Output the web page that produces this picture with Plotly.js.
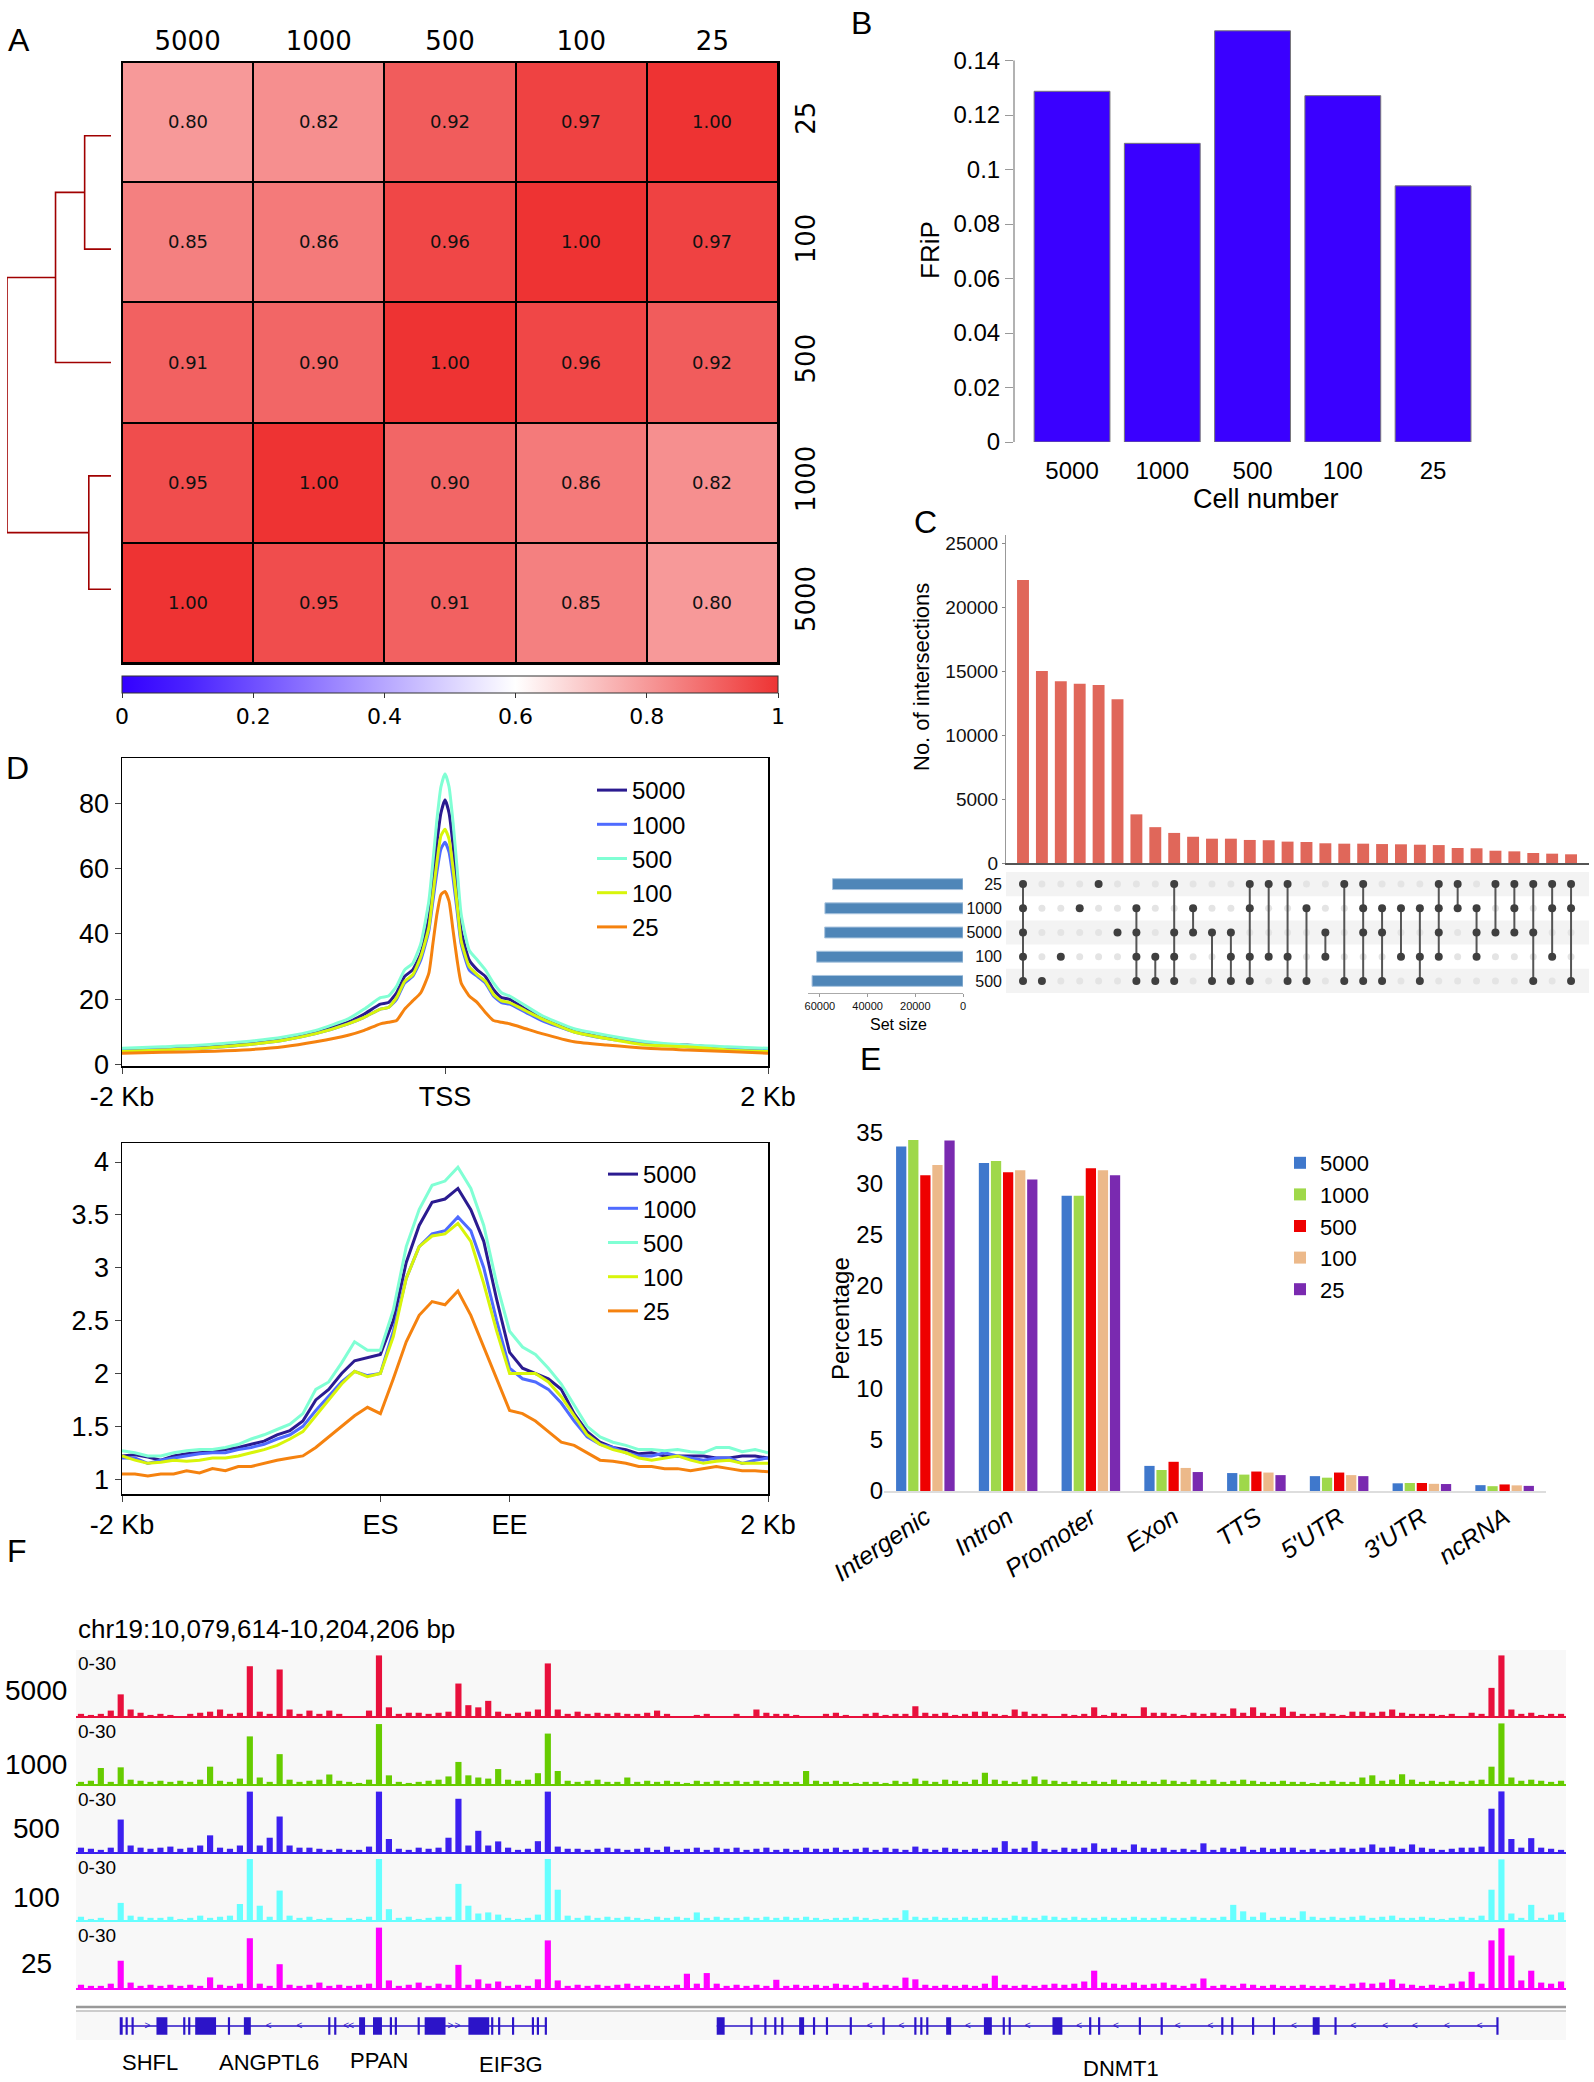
<!DOCTYPE html>
<html>
<head>
<meta charset="utf-8">
<script src="https://cdn.plot.ly/plotly-3.0.1.min.js"></script>
<style>
  body { margin: 0; background: #fff; }
  #fig { width: 1594px; height: 2082px; }
</style>
</head>
<body>
<div id="fig"></div>
<script>
const W = 1594, H = 2082;
const ARIAL = 'Liberation Sans, Arial, sans-serif';
const DJV = 'DejaVu Sans, sans-serif';

// ---------- A: correlation heatmap ----------
const cellNames = ['5000', '1000', '500', '100', '25'];
const heatRows = ['25', '100', '500', '1000', '5000'];
const corr = [
  [0.80, 0.82, 0.92, 0.97, 1.00],
  [0.85, 0.86, 0.96, 1.00, 0.97],
  [0.91, 0.90, 1.00, 0.96, 0.92],
  [0.95, 1.00, 0.90, 0.86, 0.82],
  [1.00, 0.95, 0.91, 0.85, 0.80]
];
// dendrogram: leaves 0..4 = 5000,1000,500,100,25 (bottom to top); [a, b, height]
const linkage = [[4, 3, 0.19], [5, 2, 0.40], [1, 0, 0.16], [6, 7, 0.75]];

// ---------- B: FRiP ----------
const fripVals = [0.1287, 0.1096, 0.1509, 0.1271, 0.0940];

// ---------- C: upset ----------
const interCounts = [22100, 15000, 14200, 14000, 13900, 12800, 3800, 2800, 2350, 2050,
  1900, 1900, 1800, 1780, 1670, 1640, 1540, 1510, 1510, 1480,
  1460, 1430, 1400, 1170, 1150, 960, 910, 780, 730, 680];
const interSets = [
  ['25', '1000', '5000', '100', '500'], ['500'], ['100'], ['1000'], ['25'], ['5000'],
  ['1000', '5000', '100', '500'], ['100', '500'], ['25', '5000', '100', '500'], ['1000', '5000'],
  ['5000', '500'], ['5000', '100', '500'], ['25', '1000', '100', '500'], ['25', '100'], ['25', '100', '500'],
  ['1000', '500'], ['5000', '100'], ['25', '500'], ['25', '1000', '5000', '500'], ['1000', '5000', '500'],
  ['1000', '100'], ['1000', '100', '500'], ['25', '1000', '5000', '100'], ['25', '1000'], ['1000', '5000', '100'],
  ['25', '5000'], ['25', '1000', '5000'], ['25', '5000', '500'], ['25', '1000', '100'], ['25', '1000', '500']
];
const setNames = ['25', '1000', '5000', '100', '500'];   // top to bottom
const setSizes = [54700, 57900, 58000, 61400, 63300];

// ---------- D: profiles ----------
const tssX = [-2000, -1750, -1500, -1250, -1000, -800, -600, -500, -400, -350, -300, -250, -200, -150, -100, -75, -50, -25, 0,
  25, 50, 75, 100, 150, 200, 250, 300, 350, 400, 500, 600, 800, 1000, 1250, 1500, 1750, 2000];
const tss5000 = [4.5, 5, 5.5, 6.5, 8, 10, 13, 15.5, 18.5, 19, 22, 27, 29, 34, 45, 56, 68, 77, 81, 77, 67, 54, 41, 32, 29, 27, 23, 20.5, 20, 17, 14.5, 10.5, 8.5, 6.5, 6, 5, 4.5];
const tss1000 = [4.5, 4.8, 5, 6, 7.5, 9.5, 12.5, 14.5, 17, 17.5, 20, 25, 27, 32, 41, 50, 59, 66, 68, 65, 57, 47, 37, 29, 27, 25, 21, 19, 18.5, 16, 13.5, 10, 8, 6.5, 5.5, 5, 4.5];
const tss500 = [5, 5.5, 6, 7, 8.5, 10.5, 14, 17, 20.5, 21, 24, 29, 31, 37, 50, 62, 75, 85, 89, 85, 74, 60, 46, 35, 32, 29, 25, 22, 21, 18, 15, 11, 9, 7, 6, 5.5, 5];
const tss100 = [4, 4.5, 5, 6, 7.5, 9.5, 12.5, 14.5, 17, 17.5, 20.5, 25.5, 27.5, 33, 42, 52, 62, 70, 72, 69, 60, 49, 38, 30, 27.5, 25.5, 21.5, 19.5, 19, 16.5, 14, 10, 8, 6, 5.5, 4.5, 4];
const tss25 = [3.5, 3.8, 4, 4.5, 5.5, 7, 9, 10.5, 12.5, 13, 13.5, 17, 19.5, 22, 28, 37, 46, 52, 53, 50, 41, 32, 25, 21, 19, 16, 13.5, 13, 12.5, 11, 9.5, 7, 6, 5, 4.5, 4, 3.5];

const gbX = [0, 2, 4, 6, 8, 10, 12, 14, 16, 18, 20, 22, 24, 26, 28, 30, 32, 34, 36, 38, 40, 42, 44, 46, 48, 50,
  52, 54, 56, 58, 60, 62, 64, 66, 68, 70, 72, 74, 76, 78, 80, 82, 84, 86, 88, 90, 92, 94, 96, 98, 100];
const gb5000 = [1.22, 1.23, 1.21, 1.18, 1.22, 1.24, 1.25, 1.26, 1.28, 1.30, 1.33, 1.36, 1.42, 1.46, 1.55, 1.75, 1.85, 2.00, 2.12, 2.15, 2.18,
  2.50, 3.05, 3.40, 3.62, 3.65, 3.75, 3.55, 3.25, 2.70, 2.20, 2.05, 2.00, 1.95, 1.85, 1.62, 1.45, 1.35, 1.30, 1.28, 1.24,
  1.25, 1.22, 1.22, 1.22, 1.22, 1.20, 1.20, 1.22, 1.22, 1.20];
const gb1000 = [1.20, 1.20, 1.15, 1.18, 1.20, 1.22, 1.24, 1.25, 1.25, 1.28, 1.30, 1.33, 1.38, 1.42, 1.50, 1.65, 1.78, 1.92, 2.02, 1.98, 2.00,
  2.40, 2.90, 3.20, 3.32, 3.35, 3.48, 3.35, 3.00, 2.50, 2.05, 1.95, 1.92, 1.85, 1.72, 1.55, 1.40, 1.33, 1.30, 1.25, 1.22,
  1.22, 1.25, 1.22, 1.20, 1.18, 1.20, 1.20, 1.15, 1.18, 1.20];
const gb500 = [1.27, 1.25, 1.22, 1.22, 1.25, 1.27, 1.28, 1.28, 1.30, 1.33, 1.38, 1.42, 1.47, 1.52, 1.62, 1.85, 1.92, 2.10, 2.30, 2.22, 2.22,
  2.60, 3.20, 3.55, 3.78, 3.82, 3.95, 3.75, 3.40, 2.85, 2.40, 2.25, 2.18, 2.05, 1.90, 1.70, 1.50, 1.40, 1.35, 1.32, 1.28,
  1.28, 1.27, 1.28, 1.26, 1.25, 1.30, 1.30, 1.26, 1.28, 1.25];
const gb100 = [1.22, 1.18, 1.15, 1.16, 1.18, 1.17, 1.18, 1.20, 1.20, 1.22, 1.25, 1.28, 1.32, 1.38, 1.45, 1.60, 1.75, 1.90, 2.02, 1.97, 2.00,
  2.35, 2.90, 3.20, 3.30, 3.32, 3.42, 3.25, 2.85, 2.40, 2.00, 2.00, 2.00, 1.92, 1.78, 1.60, 1.42, 1.33, 1.28, 1.25, 1.20,
  1.18, 1.20, 1.22, 1.18, 1.15, 1.17, 1.18, 1.15, 1.15, 1.15];
const gb25 = [1.05, 1.05, 1.03, 1.05, 1.05, 1.08, 1.06, 1.10, 1.08, 1.12, 1.12, 1.15, 1.18, 1.20, 1.22, 1.30, 1.40, 1.50, 1.60, 1.68, 1.62,
  1.95, 2.30, 2.55, 2.68, 2.65, 2.78, 2.55, 2.25, 1.95, 1.65, 1.62, 1.55, 1.45, 1.35, 1.32, 1.25, 1.18, 1.17, 1.15, 1.12,
  1.12, 1.10, 1.10, 1.08, 1.10, 1.12, 1.10, 1.08, 1.08, 1.07];

// ---------- E: annotation ----------
const annoCats = ['Intergenic', 'Intron', 'Promoter', 'Exon', 'TTS', "5'UTR", "3'UTR", 'ncRNA'];
const pct5000 = [33.6, 32.0, 28.8, 2.45, 1.75, 1.45, 0.75, 0.57];
const pct1000 = [34.25, 32.2, 28.8, 2.05, 1.6, 1.3, 0.78, 0.47];
const pct500 = [30.8, 31.1, 31.5, 2.85, 1.9, 1.8, 0.78, 0.64];
const pct100 = [31.8, 31.3, 31.3, 2.25, 1.8, 1.55, 0.7, 0.55];
const pct25 = [34.2, 30.4, 30.8, 1.85, 1.55, 1.45, 0.68, 0.5];

// ---------- F: genome browser (150 bins, 0-30 scale) ----------
const trk5000 = [1, 0.5, 1, 2.5, 10, 3, 1.5, 0.5, 1, 0.5, 0, 1, 1.5, 2, 3, 1, 1.5, 23, 2, 1,
  21.5, 3, 1, 2.5, 1, 2.5, 1, 0, 0, 2.5, 28, 4, 1, 1.5, 1.5, 1, 1.5, 2, 15, 5,
  4, 7, 2, 1, 1.5, 2, 3, 24.3, 3, 1, 2, 1, 1.5, 1, 1.5, 1, 1, 1.5, 2.5, 1,
  0, 0, 0.5, 1, 0, 0, 1, 0, 3, 1.5, 1, 1, 0.5, 0, 0, 1, 1.5, 0.5, 0, 1,
  1.5, 0.5, 1, 1, 4.5, 1.5, 1, 1.5, 0.5, 1, 2, 2, 1, 0.5, 3, 2, 1, 1, 0, 1,
  0.5, 1, 4, 0.5, 1.5, 1, 0, 4, 1.5, 1.5, 1, 0.5, 1.5, 1, 1.5, 1, 3.5, 1.5, 4, 1.5,
  1, 4, 2, 1, 1, 1.5, 1, 0.5, 2, 2, 1.5, 2, 3, 1.5, 1, 1, 1, 0.5, 1, 0,
  1.5, 1, 13, 28, 3, 1, 1.5, 0.5, 1, 1];
const trk1000 = [1, 1.5, 7.4, 1, 7.7, 2, 1.5, 1, 1.5, 1, 1.5, 1, 2, 8, 1.5, 1, 2.5, 22, 3, 1,
  13.8, 2, 1, 1.5, 2, 4.4, 1.5, 1, 0.5, 2, 27.7, 4, 1, 0.5, 1, 1.5, 2, 3.5, 10.2, 4,
  3, 2.5, 6.9, 2, 1.5, 2, 5, 23.3, 6, 1.5, 1, 1.5, 2, 1, 1, 3, 1, 1.5, 1, 1.5,
  1, 0.5, 1.5, 1, 1.5, 1, 1.5, 1, 1.5, 1, 1.5, 1, 1, 6, 1.5, 1, 1.5, 1, 0.5, 1,
  1, 0.5, 1.5, 1, 2.5, 1.5, 1, 2, 1.5, 1, 2, 5.2, 2, 1.5, 1, 2, 3.5, 2, 1.5, 1,
  1.5, 1, 1.5, 1, 2, 1.5, 1, 1.5, 1, 2, 1.5, 1, 2, 1.5, 2, 1, 1.5, 2, 1.5, 1,
  1, 1.5, 1, 1, 0.5, 1, 1.5, 1, 1, 3, 4, 1.5, 2, 4.5, 2, 1, 1.5, 1, 1.5, 1,
  1.5, 2, 8, 28, 3, 1.5, 2, 1.5, 1, 1.5];
const trk500 = [2, 1.5, 1, 2, 15, 3, 2, 1.5, 2, 2.5, 1.5, 2, 3, 7.7, 2, 1.5, 3, 27.9, 3, 6.6,
  16.4, 3, 2, 2, 1.5, 1, 1.5, 1, 1, 2.5, 27.9, 6, 1.5, 1, 2, 1.5, 2, 6.6, 24.6, 3,
  9.8, 3, 4.9, 2, 1, 1.5, 5, 27.9, 2.5, 1.5, 1.5, 1, 1.5, 2, 1.5, 1, 1.5, 2, 1, 2.5,
  1, 1.5, 2, 1, 2, 1.5, 2, 1, 1.5, 2, 1, 1.5, 1, 2, 1.5, 1.5, 2, 1, 1.5, 2,
  1, 2, 1.5, 1, 2.5, 1.5, 1, 2, 1.5, 1, 1.5, 1, 2, 5, 1.5, 2, 5, 1.5, 1, 2,
  1.5, 2, 4, 1.5, 2, 1, 3.5, 2, 1.5, 2, 1, 1.5, 1, 4, 1, 2, 1.5, 2.5, 1, 2,
  1.5, 2, 2, 1, 1.5, 1, 1.5, 2, 1.5, 2, 3.5, 2, 2.5, 1.5, 3.5, 2, 1.5, 1, 1.5, 2,
  2, 2.5, 20, 28, 6, 2, 6.4, 2, 1.5, 1];
const trk100 = [1.5, 0.5, 1, 0, 7.9, 2, 1.5, 1, 1, 1.5, 0.5, 1, 2, 1, 1.5, 2, 7.4, 28.2, 6.6, 1.5,
  13.6, 2, 1, 1.5, 0.5, 1, 0, 1, 0.5, 1.5, 28.2, 5, 1, 1.5, 0.5, 1, 1.5, 1.5, 16.7, 6.6,
  3, 3.5, 2.5, 1, 0.5, 1, 2.5, 28.2, 14, 2, 1, 2, 1, 1.5, 1, 1.5, 1, 0.5, 1.5, 1,
  1.5, 1, 3.5, 1, 1.5, 1, 1, 1.5, 1, 1.5, 1, 1.5, 1, 1.5, 1, 0.5, 1, 1, 1.5, 1,
  0.5, 1, 1, 4.5, 1.5, 1, 1.5, 1, 1, 1.5, 1, 1.5, 1, 1, 2, 1.5, 1, 2, 1.5, 1,
  1.5, 1, 1, 1.5, 1, 1, 1.5, 1, 1, 1.5, 1, 1, 1.5, 1, 1, 1.5, 7, 4, 1.5, 3.5,
  1, 1.5, 1, 4, 1.5, 1, 1.5, 1, 1.5, 2, 1, 1.5, 2, 1, 1, 1.5, 1, 0.5, 1, 1.5,
  1, 2, 14, 28, 3, 1, 7, 1, 2.5, 3.5];
const trk25 = [1.5, 1, 1, 2, 12.6, 2.5, 1, 1.5, 1, 1.5, 1, 1.5, 1, 4.9, 1.5, 1, 2, 23, 2, 1,
  11, 1.5, 1, 1.5, 2.5, 1, 1.5, 1, 1.5, 2, 27.9, 3.5, 1, 1.5, 2.5, 1, 2, 1.5, 10.7, 1.5,
  4, 2, 3, 1, 1.5, 1, 4, 22, 3.5, 1, 1.5, 1, 1.5, 1, 1.5, 2, 1, 1.5, 1, 1,
  1.5, 6.6, 2, 6.9, 2, 1, 1.5, 1, 1.5, 1, 3.8, 1, 1.5, 1, 1.5, 1, 2, 1.5, 1, 2.5,
  1, 1.5, 1, 4.8, 4, 1.5, 1, 1.5, 1, 1.5, 1, 2, 5.7, 1.5, 1, 1.5, 1, 1.5, 2, 1.5,
  2, 3, 8, 2.5, 2, 1.5, 2.5, 1.5, 2, 2.5, 1.5, 1, 2, 4.4, 1, 1.5, 1, 2, 1.5, 1,
  1.5, 1, 1, 1.5, 1, 1, 1.5, 1, 2, 2.5, 2, 2.5, 4, 2, 1.5, 1, 1.5, 1, 2, 3,
  7.5, 2, 22, 27.6, 15, 3.5, 8, 2.5, 2, 3];
const trackNames = ['5000', '1000', '500', '100', '25'];
const trackData = [trk5000, trk1000, trk500, trk100, trk25];
const trackColors = ['#e8103c', '#66cc00', '#3c20f0', '#66ffff', '#ff00ff'];

const geneSpans = [[4.5, 47.4], [64.5, 143.1]];
const exonStart = [4.4, 5.0, 5.6, 8.1, 10.8, 11.3, 12.0, 15.3, 16.9, 25.4, 26.0, 28.5, 29.9, 31.6, 32.1, 34.4, 35.1, 39.5, 41.8, 42.5, 43.9, 45.9, 46.4, 47.2,
  64.5, 67.9, 69.3, 70.3, 71.0, 72.8, 74.2, 75.5, 77.9, 81.2, 84.4, 85.0, 85.6, 87.6, 91.4, 93.3, 93.9, 98.3, 102.0, 102.9, 107.0, 109.2, 115.3, 116.3, 118.4, 120.5, 124.5, 126.7, 143.0];
const exonEnd = [4.7, 5.2, 5.8, 9.2, 11.0, 11.5, 14.1, 15.5, 17.6, 25.6, 26.2, 29.1, 30.8, 31.8, 32.3, 34.6, 37.2, 41.6, 42.0, 42.7, 44.1, 46.1, 46.6, 47.4,
  65.3, 68.1, 69.5, 70.5, 71.2, 73.3, 74.4, 75.7, 78.1, 81.4, 84.6, 85.2, 85.8, 88.1, 92.2, 93.5, 94.1, 99.3, 102.2, 103.1, 107.2, 109.4, 115.5, 116.5, 118.6, 120.7, 125.2, 126.9, 143.2];
const arrowPos = [7.2, 19.4, 22.5, 27.2, 27.7, 37.7, 38.4, 79.9, 83.1, 89.8, 95.8, 101.0, 104.7, 110.9, 114.2, 122.6, 128.6, 131.8, 134.8, 138.0, 141.3];
const arrowDir = ['>', '<', '<', '<', '<', '>', '>', '<', '<', '<', '<', '<', '<', '<', '<', '<', '<', '<', '<', '<', '<'];
const geneLabels = ['SHFL', 'ANGPTL6', 'PPAN', 'EIF3G', 'DNMT1'];
const geneLabelX = [150, 269, 379, 511, 1121];
const geneLabelY = [2062, 2062, 2060, 2064, 2068];

// ---------- helpers ----------
function xd(a, b) { return [a / W, b / W]; }
function yd(top, bot) { return [1 - bot / H, 1 - top / H]; }
function px(x) { return x / W; }
function py(y) { return 1 - y / H; }
const hidden = { visible: false, showgrid: false, zeroline: false };

const traces = [];
const sampleColors = { '5000': '#2b1b90', '1000': '#4f6bff', '500': '#80ffd4', '100': '#d8f50a', '25': '#f5820f' };

// A heatmap
traces.push({
  type: 'heatmap', x: cellNames, y: heatRows, z: corr, zmin: 0, zmax: 1,
  xaxis: 'x', yaxis: 'y', xgap: 2, ygap: 2,
  colorscale: [[0, '#3300ff'], [0.1, '#4a22ff'], [0.6, '#ffffff'], [1, '#ee3333']],
  texttemplate: '%{z:.2f}', textfont: { family: DJV, size: 18, color: '#111' },
  hoverinfo: 'skip',
  colorbar: {
    orientation: 'h', x: px(122), xanchor: 'left', y: py(676), yanchor: 'top',
    len: 656, lenmode: 'pixels', thickness: 17, xpad: 0, ypad: 0,
    outlinewidth: 1, outlinecolor: '#333',
    tickvals: [0, 0.2, 0.4, 0.6, 0.8, 1], ticktext: ['0', '0.2', '0.4', '0.6', '0.8', '1'],
    ticks: 'outside', ticklen: 5, tickcolor: '#333',
    tickfont: { family: DJV, size: 22, color: '#000' }
  }
});

// A dendrogram
const pos = [0, 1, 2, 3, 4], hgt = [0, 0, 0, 0, 0];
const dx = [], dy = [];
linkage.forEach(([a, b, h]) => {
  dx.push(hgt[a], h, h, hgt[b], null);
  dy.push(pos[a], pos[a], pos[b], pos[b], null);
  pos.push((pos[a] + pos[b]) / 2);
  hgt.push(h);
});
traces.push({ type: 'scatter', mode: 'lines', x: dx, y: dy, xaxis: 'x2', yaxis: 'y2',
  line: { color: '#a00000', width: 1.6 }, hoverinfo: 'skip', showlegend: false });

// B bars
traces.push({ type: 'bar', x: cellNames, y: fripVals, xaxis: 'x3', yaxis: 'y3', width: 0.84,
  marker: { color: '#3a00ff', line: { color: '#777', width: 1 } }, showlegend: false, hoverinfo: 'skip' });

// C intersections
const colIdx = interCounts.map((_, i) => i);
traces.push({ type: 'bar', x: colIdx, y: interCounts, xaxis: 'x4', yaxis: 'y4', width: 0.63,
  marker: { color: '#e0675a' }, showlegend: false, hoverinfo: 'skip' });

// C matrix dots
const rowY = {};
setNames.forEach((s, i) => { rowY[s] = 4 - i; });
const offX = [], offY = [], onX = [], onY = [], segX = [], segY = [];
interSets.forEach((sets, i) => {
  const ys = sets.map(s => rowY[s]);
  setNames.forEach(s => {
    if (sets.includes(s)) { onX.push(i); onY.push(rowY[s]); }
    else { offX.push(i); offY.push(rowY[s]); }
  });
  if (ys.length > 1) {
    segX.push(i, i, null);
    segY.push(Math.min(...ys), Math.max(...ys), null);
  }
});
traces.push({ type: 'scatter', mode: 'markers', x: offX, y: offY, xaxis: 'x5', yaxis: 'y5',
  marker: { color: '#e4e4e4', size: 7 }, showlegend: false, hoverinfo: 'skip' });
traces.push({ type: 'scatter', mode: 'lines', x: segX, y: segY, xaxis: 'x5', yaxis: 'y5',
  line: { color: '#555', width: 2 }, showlegend: false, hoverinfo: 'skip' });
traces.push({ type: 'scatter', mode: 'markers', x: onX, y: onY, xaxis: 'x5', yaxis: 'y5',
  marker: { color: '#3f3f3f', size: 8 }, showlegend: false, hoverinfo: 'skip' });

// C set sizes
traces.push({ type: 'bar', orientation: 'h', x: setSizes, y: setNames.map(s => rowY[s]), xaxis: 'x6', yaxis: 'y6',
  width: 0.45, marker: { color: '#4f86b8', line: { color: '#a9c4de', width: 1 } }, showlegend: false, hoverinfo: 'skip' });

// D profiles
const tssSeries = { '5000': tss5000, '1000': tss1000, '500': tss500, '100': tss100, '25': tss25 };
const gbSeries = { '5000': gb5000, '1000': gb1000, '500': gb500, '100': gb100, '25': gb25 };
cellNames.forEach(n => {
  traces.push({ type: 'scatter', mode: 'lines', x: tssX, y: tssSeries[n], name: n, xaxis: 'x7', yaxis: 'y7',
    line: { color: sampleColors[n], width: 3, shape: 'spline', smoothing: 0.5 }, legend: 'legend', hoverinfo: 'skip' });
});
cellNames.forEach(n => {
  traces.push({ type: 'scatter', mode: 'lines', x: gbX, y: gbSeries[n], name: n, xaxis: 'x8', yaxis: 'y8',
    line: { color: sampleColors[n], width: 3 }, legend: 'legend2', hoverinfo: 'skip' });
});

// E grouped bars
const pctSeries = { '5000': pct5000, '1000': pct1000, '500': pct500, '100': pct100, '25': pct25 };
const annoColors = { '5000': '#3f78cc', '1000': '#9fd84a', '500': '#ee0000', '100': '#ecb98a', '25': '#7a2ab0' };
cellNames.forEach(n => {
  traces.push({ type: 'bar', x: annoCats, y: pctSeries[n], name: n, xaxis: 'x9', yaxis: 'y9',
    marker: { color: annoColors[n] }, legend: 'legend3', hoverinfo: 'skip' });
});

// F tracks
const binX = trk5000.map((_, i) => i + 0.5);
trackData.forEach((vals, k) => {
  traces.push({ type: 'bar', x: binX, y: vals, xaxis: 'x' + (10 + k), yaxis: 'y' + (10 + k), width: 0.62,
    marker: { color: trackColors[k], line: { width: 0 } }, showlegend: false, hoverinfo: 'skip' });
});
// gene models
const gLineX = [], gLineY = [];
geneSpans.forEach(([a, b]) => { gLineX.push(a, b, null); gLineY.push(0, 0, null); });
traces.push({ type: 'scatter', mode: 'lines', x: gLineX, y: gLineY, xaxis: 'x15', yaxis: 'y15',
  line: { color: '#2c14c8', width: 1.5 }, showlegend: false, hoverinfo: 'skip' });
traces.push({ type: 'bar', x: exonStart.map((s, i) => (s + exonEnd[i]) / 2),
  y: exonStart.map(() => 2), base: -1, width: exonStart.map((s, i) => Math.max(exonEnd[i] - s, 0.22)),
  xaxis: 'x15', yaxis: 'y15', marker: { color: '#2c14c8', line: { width: 0 } }, showlegend: false, hoverinfo: 'skip' });
traces.push({ type: 'scatter', mode: 'text', x: arrowPos, y: arrowPos.map(() => 0), text: arrowDir,
  xaxis: 'x15', yaxis: 'y15', textfont: { family: ARIAL, size: 10, color: '#2c14c8' }, showlegend: false, hoverinfo: 'skip' });

// ---------- layout ----------
const layout = {
  width: W, height: H, margin: { l: 0, r: 0, t: 0, b: 0 },
  paper_bgcolor: '#fff', plot_bgcolor: 'rgba(0,0,0,0)',
  showlegend: true, barmode: 'group', bargap: 0.27, bargroupgap: 0.15,
  font: { family: ARIAL, color: '#000' },

  xaxis: { domain: xd(122, 778), side: 'top', type: 'category', ticks: '', showgrid: false, zeroline: false,
    showline: true, mirror: true, linecolor: '#000', linewidth: 1.5,
    tickfont: { family: DJV, size: 26 }, categoryorder: 'array', categoryarray: cellNames },
  yaxis: { domain: yd(62, 663), side: 'right', type: 'category', autorange: 'reversed', ticks: '', showgrid: false,
    zeroline: false, showline: true, mirror: true, linecolor: '#000', linewidth: 1.5, tickangle: -90,
    ticklabelstandoff: 4, tickfont: { family: DJV, size: 26 } },

  xaxis2: Object.assign({ domain: xd(7, 111), range: [0.75, 0], anchor: 'y2' }, hidden),
  yaxis2: Object.assign({ domain: yd(79, 646), range: [-0.5, 4.5], anchor: 'x2' }, hidden),

  xaxis3: { domain: xd(1014, 1480), anchor: 'y3', type: 'category', range: [-0.643, 4.52], ticks: '',
    showgrid: false, zeroline: false, ticklabelstandoff: 12, tickfont: { size: 24 } },
  yaxis3: { domain: yd(6, 442), anchor: 'x3', range: [0, 0.16], showgrid: false, zeroline: false,
    tickvals: [0, 0.02, 0.04, 0.06, 0.08, 0.1, 0.12, 0.14],
    ticktext: ['0', '0.02', '0.04', '0.06', '0.08', '0.1', '0.12', '0.14'],
    ticks: 'outside', ticklen: 8, tickcolor: '#999', tickfont: { size: 24 } },

  xaxis4: { domain: xd(1006, 1589), anchor: 'y4', range: [-0.9, 29.95], showticklabels: false, ticks: '',
    showgrid: false, zeroline: false, showline: true, linecolor: '#555', linewidth: 1.5 },
  yaxis4: { domain: yd(535, 863), anchor: 'x4', range: [0, 25625], showgrid: false, zeroline: false,
    tickvals: [0, 5000, 10000, 15000, 20000, 25000], ticktext: ['0', '5000', '10000', '15000', '20000', '25000'],
    ticks: 'outside', ticklen: 3, tickcolor: '#888',
    showline: true, linecolor: '#999', linewidth: 1, tickfont: { size: 19, color: '#111' } },

  xaxis5: Object.assign({ domain: xd(1006, 1589), range: [-0.9, 29.95], anchor: 'y5' }, hidden),
  yaxis5: { domain: yd(872, 993), anchor: 'x5', range: [-0.5, 4.5], showgrid: false, zeroline: false,
    tickvals: [4, 3, 2, 1, 0], ticktext: setNames, ticks: '', ticklabelstandoff: 3,
    tickfont: { size: 16, color: '#111' } },

  xaxis6: { domain: xd(808, 963), anchor: 'y6', range: [65000, 0], showgrid: false, zeroline: false,
    tickvals: [0, 20000, 40000, 60000], ticktext: ['0', '20000', '40000', '60000'],
    ticks: 'outside', ticklen: 3, tickcolor: '#999', ticklabelstandoff: 0,
    showline: true, linecolor: '#aaa', linewidth: 1, tickfont: { size: 11, color: '#111' } },
  yaxis6: Object.assign({ domain: yd(872, 993), range: [-0.5, 4.5], anchor: 'x6' }, hidden),

  xaxis7: { domain: xd(122, 768), anchor: 'y7', range: [-2000, 2000], showgrid: false, zeroline: false,
    showline: true, mirror: true, linecolor: '#000', linewidth: 1.5, ticks: 'outside', ticklen: 6,
    tickvals: [-2000, 0, 2000], ticktext: ['-2 Kb', 'TSS', '2 Kb'], tickfont: { size: 27 } },
  yaxis7: { domain: yd(758, 1066), anchor: 'x7', range: [-0.4, 93.8], showgrid: false, zeroline: false,
    showline: true, mirror: true, linecolor: '#000', linewidth: 1.5, ticks: 'outside', ticklen: 6,
    tickvals: [0, 20, 40, 60, 80], tickfont: { size: 27 } },

  xaxis8: { domain: xd(122, 768), anchor: 'y8', range: [0, 100], showgrid: false, zeroline: false,
    showline: true, mirror: true, linecolor: '#000', linewidth: 1.5, ticks: 'outside', ticklen: 6,
    tickvals: [0, 40, 60, 100], ticktext: ['-2 Kb', 'ES', 'EE', '2 Kb'], tickfont: { size: 27 } },
  yaxis8: { domain: yd(1143, 1494), anchor: 'x8', range: [0.86, 4.18], showgrid: false, zeroline: false,
    showline: true, mirror: true, linecolor: '#000', linewidth: 1.5, ticks: 'outside', ticklen: 6,
    tickvals: [1, 1.5, 2, 2.5, 3, 3.5, 4], tickfont: { size: 27 } },

  xaxis9: { domain: xd(884, 1546), anchor: 'y9', range: [-0.5, 7.5], type: 'category', showgrid: false,
    zeroline: false, showline: true, linecolor: '#ddd', linewidth: 2, ticks: '', tickangle: -34,
    tickfont: { size: 25, style: 'italic' } },
  yaxis9: { domain: yd(1122, 1491), anchor: 'x9', range: [0, 36], showgrid: false, zeroline: false,
    tickvals: [0, 5, 10, 15, 20, 25, 30, 35], ticks: '', tickfont: { size: 24 } },

  xaxis15: Object.assign({ domain: xd(76, 1566), range: [0, 150], anchor: 'y15' }, hidden),
  yaxis15: Object.assign({ domain: yd(2012, 2040), range: [-1.6, 1.6], anchor: 'x15' }, hidden),

  legend: { x: px(592), y: py(768), xanchor: 'left', yanchor: 'top', font: { size: 24 },
    bgcolor: 'rgba(0,0,0,0)', tracegroupgap: 0 },
  legend2: { x: px(603), y: py(1152), xanchor: 'left', yanchor: 'top', font: { size: 24 },
    bgcolor: 'rgba(0,0,0,0)', tracegroupgap: 0 },
  legend3: { x: px(1280), y: py(1142), xanchor: 'left', yanchor: 'top', font: { size: 22 },
    bgcolor: 'rgba(0,0,0,0)', tracegroupgap: 0 },

  shapes: [], annotations: []
};

// track axes
const trackTops = [1650, 1718, 1786, 1854, 1922];
trackTops.forEach((t, k) => {
  const n = 10 + k;
  layout['xaxis' + n] = { domain: xd(76, 1566), anchor: 'y' + n, range: [0, 150], showticklabels: false,
    ticks: '', showgrid: false, zeroline: false, showline: true, linecolor: trackColors[k], linewidth: 1.5 };
  layout['yaxis' + n] = Object.assign({ domain: yd(t, t + 66), range: [0, 30.5], anchor: 'x' + n }, hidden);
  layout.shapes.push({ type: 'rect', xref: 'x' + n + ' domain', yref: 'y' + n + ' domain',
    x0: 0, x1: 1, y0: 0, y1: 1, fillcolor: '#f8f8f8', line: { width: 0 }, layer: 'below' });
  layout.annotations.push({ x: px(76), y: py(t + 1), xref: 'paper', yref: 'paper', xanchor: 'left', yanchor: 'top',
    text: '0-30', showarrow: false, font: { size: 19 } });
});

// heatmap grid background
layout.shapes.push({ type: 'rect', xref: 'x domain', yref: 'y domain', x0: 0, x1: 1, y0: 0, y1: 1,
  fillcolor: '#000', line: { width: 0 }, layer: 'below' });
// FRiP axis line (R style: only 0..0.14)
layout.shapes.push({ type: 'line', xref: 'paper', yref: 'y3', x0: px(1014), x1: px(1014), y0: 0, y1: 0.14,
  line: { color: '#999', width: 1.5 } });
// upset matrix stripes
[4, 2, 0].forEach(r => {
  layout.shapes.push({ type: 'rect', xref: 'x5 domain', yref: 'y5', x0: 0, x1: 1, y0: r - 0.5, y1: r + 0.5,
    fillcolor: '#f3f3f3', line: { width: 0 }, layer: 'below' });
});
// gene track
layout.shapes.push({ type: 'rect', xref: 'x15 domain', yref: 'y15 domain', x0: 0, x1: 1, y0: 0, y1: 1,
  fillcolor: '#f8f8f8', line: { width: 0 }, layer: 'below' });
layout.shapes.push({ type: 'line', xref: 'paper', yref: 'paper', x0: px(76), x1: px(1566), y0: py(2007), y1: py(2007),
  line: { color: '#999', width: 2.5 } });
layout.shapes.push({ type: 'line', xref: 'paper', yref: 'paper', x0: px(76), x1: px(1566), y0: py(2011), y1: py(2011),
  line: { color: '#bbb', width: 1.5 } });

// text annotations (centered on the given pixel position)
function note(text, x, y, size, extra) {
  layout.annotations.push(Object.assign({ text: text, x: px(x), y: py(y), xref: 'paper', yref: 'paper',
    xanchor: 'center', yanchor: 'middle', showarrow: false, font: { size: size } }, extra || {}));
}
note('A', 19, 40, 32);
note('B', 861, 23, 32);
note('C', 925, 522, 32);
note('D', 17, 768, 32);
note('E', 870, 1059, 32);
note('F', 17, 1551, 32);
note('FRiP', 930, 250, 26, { textangle: -90 });
note('Cell number', 1266, 499, 27);
note('No. of intersections', 922, 677, 22, { textangle: -90 });
note('Set size', 898, 1024, 16);
note('Percentage', 840, 1319, 24, { textangle: -90 });
note('chr19:10,079,614-10,204,206 bp', 76, 1629, 26, { xanchor: 'left' });
const sampleLabelY = [1690, 1764, 1828, 1897, 1963];
trackNames.forEach((n, k) => note(n, 36, sampleLabelY[k], 28));
geneLabels.forEach((g, i) => note(g, geneLabelX[i], geneLabelY[i], 22));

Plotly.newPlot('fig', traces, layout, { displayModeBar: false, staticPlot: true });
</script>
</body>
</html>
